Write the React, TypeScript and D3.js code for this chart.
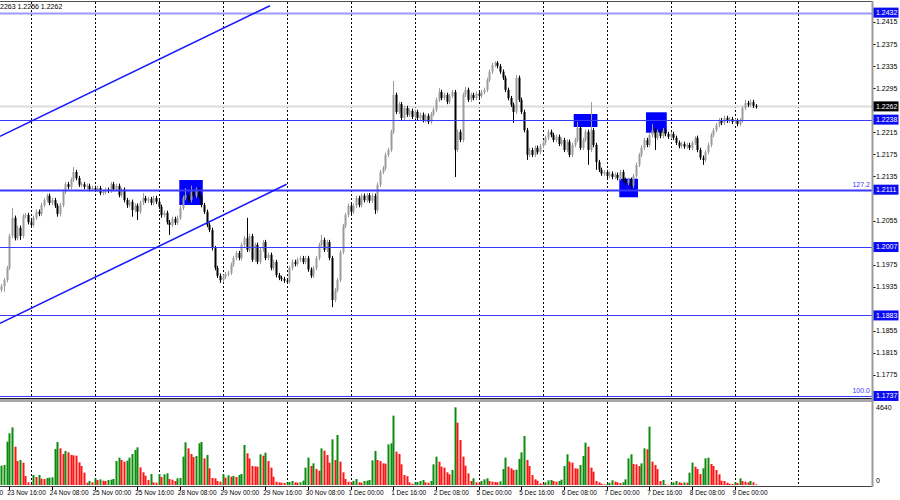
import React from 'react';
import * as d3 from 'd3';

// first bar index (0 = 23 Nov 16:00, H1 bars)
const firstBar = -3;

const opens = [
1.1929,1.1936,1.1947,1.1969,1.2027,1.2060,1.2023,1.2042,1.2027,1.2063,1.2065,1.2052,
1.2047,1.2060,1.2071,1.2067,1.2083,1.2092,1.2100,1.2087,1.2092,1.2082,1.2067,1.2083,
1.2107,1.2121,1.2116,1.2129,1.2143,1.2132,1.2120,1.2121,1.2116,1.2118,1.2112,1.2114,
1.2111,1.2114,1.2105,1.2107,1.2111,1.2109,1.2121,1.2112,1.2118,1.2101,1.2111,1.2092,
1.2083,1.2089,1.2074,1.2082,1.2071,1.2087,1.2096,1.2091,1.2094,1.2087,1.2096,1.2089,
1.2080,1.2065,1.2069,1.2052,1.2047,1.2058,1.2051,1.2060,1.2078,1.2096,1.2101,1.2092,
1.2107,1.2100,1.2111,1.2098,1.2083,1.2071,1.2047,1.2038,1.2005,1.1969,1.1955,1.1947,
1.1953,1.1958,1.1960,1.1975,1.1987,1.1996,1.1987,1.2011,1.2023,1.2002,1.2027,1.1984,
1.2011,1.1980,1.2002,1.2016,1.1987,1.1993,1.1969,1.1980,1.1956,1.1951,1.1949,1.1946,
1.1944,1.1969,1.1980,1.1976,1.1984,1.1987,1.1980,1.1987,1.1966,1.1955,1.1969,1.1987,
1.2011,1.2020,1.2002,1.2016,1.1987,1.1911,1.1929,1.1947,1.1998,1.2045,1.2065,1.2082,
1.2071,1.2082,1.2096,1.2083,1.2100,1.2092,1.2101,1.2091,1.2100,1.2074,1.2120,1.2143,
1.2150,1.2174,1.2183,1.2216,1.2283,1.2252,1.2266,1.2241,1.2259,1.2247,1.2254,1.2243,
1.2252,1.2241,1.2247,1.2237,1.2245,1.2234,1.2248,1.2256,1.2274,1.2288,1.2277,1.2283,
1.2270,1.2281,1.2288,1.2183,1.2216,1.2201,1.2283,1.2292,1.2274,1.2283,1.2277,1.2285,
1.2281,1.2288,1.2292,1.2310,1.2325,1.2337,1.2341,1.2335,1.2325,1.2314,1.2292,1.2277,
1.2265,1.2252,1.2314,1.2274,1.2252,1.2219,1.2174,1.2183,1.2174,1.2187,1.2179,1.2190,
1.2196,1.2205,1.2216,1.2210,1.2201,1.2207,1.2194,1.2201,1.2183,1.2198,1.2174,1.2192,
1.2201,1.2223,1.2187,1.2201,1.2216,1.2183,1.2219,1.2192,1.2161,1.2147,1.2140,1.2143,
1.2136,1.2140,1.2134,1.2138,1.2132,1.2143,1.2129,1.2123,1.2129,1.2118,1.2136,1.2156,
1.2174,1.2187,1.2201,1.2192,1.2210,1.2219,1.2205,1.2216,1.2208,1.2219,1.2212,1.2207,
1.2212,1.2205,1.2196,1.2190,1.2194,1.2189,1.2192,1.2187,1.2196,1.2205,1.2183,1.2169,
1.2165,1.2179,1.2192,1.2210,1.2219,1.2228,1.2237,1.2232,1.2241,1.2236,1.2239,1.2234,
1.2236,1.2230,1.2237,1.2259,1.2268,1.2265,1.2270,1.2263,
];

const highs = [
1.1940,1.1951,1.1973,1.2031,1.2078,1.2064,1.2046,1.2046,1.2067,1.2069,1.2069,1.2056,
1.2064,1.2075,1.2075,1.2087,1.2096,1.2104,1.2104,1.2096,1.2096,1.2086,1.2087,1.2111,
1.2125,1.2125,1.2133,1.2152,1.2147,1.2136,1.2125,1.2125,1.2122,1.2122,1.2118,1.2118,
1.2118,1.2118,1.2111,1.2115,1.2115,1.2125,1.2125,1.2122,1.2122,1.2115,1.2115,1.2096,
1.2093,1.2093,1.2086,1.2086,1.2091,1.2105,1.2100,1.2098,1.2098,1.2100,1.2100,1.2093,
1.2084,1.2073,1.2073,1.2056,1.2062,1.2062,1.2064,1.2082,1.2100,1.2114,1.2105,1.2118,
1.2111,1.2115,1.2115,1.2102,1.2087,1.2075,1.2051,1.2042,1.2009,1.1973,1.1959,1.1957,
1.1962,1.1964,1.1979,1.1991,1.2000,1.2000,1.2015,1.2027,1.2060,1.2031,1.2031,1.2015,
1.2015,1.2006,1.2020,1.2020,1.1997,1.1997,1.1984,1.1984,1.1960,1.1955,1.1953,1.1950,
1.1973,1.1984,1.1984,1.1988,1.1991,1.1991,1.1991,1.1991,1.1970,1.1973,1.1991,1.2015,
1.2029,1.2024,1.2020,1.2020,1.1991,1.1933,1.1951,1.2002,1.2049,1.2069,1.2086,1.2086,
1.2086,1.2100,1.2100,1.2104,1.2104,1.2105,1.2105,1.2104,1.2104,1.2124,1.2147,1.2154,
1.2178,1.2187,1.2220,1.2308,1.2287,1.2270,1.2270,1.2263,1.2263,1.2258,1.2258,1.2256,
1.2256,1.2251,1.2251,1.2249,1.2249,1.2252,1.2260,1.2278,1.2295,1.2292,1.2287,1.2287,
1.2285,1.2292,1.2292,1.2220,1.2220,1.2287,1.2297,1.2296,1.2287,1.2287,1.2289,1.2289,
1.2292,1.2296,1.2314,1.2329,1.2341,1.2344,1.2344,1.2339,1.2329,1.2318,1.2296,1.2281,
1.2269,1.2319,1.2318,1.2278,1.2256,1.2223,1.2187,1.2187,1.2191,1.2191,1.2194,1.2200,
1.2209,1.2220,1.2220,1.2214,1.2211,1.2211,1.2205,1.2205,1.2202,1.2202,1.2196,1.2205,
1.2234,1.2227,1.2205,1.2220,1.2220,1.2270,1.2223,1.2196,1.2165,1.2151,1.2147,1.2147,
1.2144,1.2144,1.2142,1.2142,1.2147,1.2147,1.2133,1.2133,1.2133,1.2140,1.2160,1.2178,
1.2191,1.2205,1.2205,1.2214,1.2230,1.2223,1.2220,1.2220,1.2223,1.2223,1.2216,1.2216,
1.2216,1.2209,1.2200,1.2198,1.2198,1.2196,1.2196,1.2200,1.2208,1.2209,1.2187,1.2173,
1.2183,1.2196,1.2214,1.2223,1.2232,1.2241,1.2241,1.2245,1.2245,1.2243,1.2243,1.2240,
1.2240,1.2241,1.2263,1.2274,1.2272,1.2274,1.2274,1.2266,
];

const lows = [
1.1925,1.1926,1.1943,1.1965,1.2023,1.2019,1.2019,1.2020,1.2023,1.2059,1.2048,1.2042,
1.2043,1.2056,1.2063,1.2063,1.2079,1.2088,1.2083,1.2083,1.2078,1.2062,1.2063,1.2079,
1.2103,1.2112,1.2112,1.2125,1.2128,1.2116,1.2116,1.2112,1.2112,1.2108,1.2108,1.2107,
1.2107,1.2101,1.2101,1.2103,1.2105,1.2105,1.2108,1.2108,1.2097,1.2097,1.2088,1.2078,
1.2079,1.2062,1.2070,1.2056,1.2067,1.2083,1.2087,1.2087,1.2083,1.2083,1.2085,1.2076,
1.2060,1.2061,1.2048,1.2029,1.2043,1.2047,1.2047,1.2056,1.2074,1.2092,1.2088,1.2088,
1.2096,1.2096,1.2094,1.2079,1.2067,1.2043,1.2034,1.2001,1.1965,1.1951,1.1942,1.1943,
1.1949,1.1954,1.1956,1.1971,1.1983,1.1983,1.1983,1.2007,1.1998,1.1998,1.1980,1.1980,
1.1976,1.1976,1.1998,1.1983,1.1983,1.1965,1.1965,1.1952,1.1947,1.1945,1.1942,1.1940,
1.1940,1.1965,1.1972,1.1972,1.1980,1.1976,1.1976,1.1962,1.1951,1.1951,1.1965,1.1983,
1.2007,1.1998,1.1998,1.1983,1.1898,1.1907,1.1925,1.1943,1.1994,1.2041,1.2061,1.2067,
1.2067,1.2078,1.2079,1.2079,1.2088,1.2088,1.2087,1.2087,1.2067,1.2070,1.2116,1.2139,
1.2146,1.2170,1.2179,1.2212,1.2248,1.2248,1.2237,1.2237,1.2243,1.2243,1.2239,1.2239,
1.2237,1.2237,1.2233,1.2233,1.2230,1.2230,1.2244,1.2252,1.2270,1.2273,1.2273,1.2266,
1.2266,1.2277,1.2134,1.2179,1.2197,1.2197,1.2279,1.2270,1.2270,1.2273,1.2273,1.2277,
1.2277,1.2284,1.2288,1.2306,1.2321,1.2333,1.2331,1.2321,1.2310,1.2288,1.2273,1.2261,
1.2232,1.2248,1.2270,1.2248,1.2215,1.2165,1.2170,1.2170,1.2170,1.2175,1.2175,1.2186,
1.2192,1.2201,1.2206,1.2197,1.2197,1.2190,1.2190,1.2179,1.2179,1.2170,1.2170,1.2188,
1.2197,1.2183,1.2183,1.2197,1.2156,1.2179,1.2188,1.2147,1.2143,1.2136,1.2136,1.2132,
1.2132,1.2130,1.2130,1.2128,1.2128,1.2125,1.2119,1.2119,1.2111,1.2114,1.2132,1.2152,
1.2170,1.2183,1.2188,1.2188,1.2206,1.2183,1.2201,1.2204,1.2204,1.2208,1.2203,1.2203,
1.2201,1.2192,1.2186,1.2186,1.2185,1.2185,1.2183,1.2183,1.2192,1.2179,1.2165,1.2156,
1.2161,1.2175,1.2188,1.2206,1.2215,1.2224,1.2228,1.2228,1.2232,1.2232,1.2230,1.2230,
1.2226,1.2226,1.2233,1.2255,1.2261,1.2261,1.2259,1.2258,
];

const closes = [
1.1936,1.1947,1.1969,1.2027,1.2060,1.2023,1.2042,1.2027,1.2063,1.2065,1.2052,1.2047,
1.2060,1.2071,1.2067,1.2083,1.2092,1.2100,1.2087,1.2092,1.2082,1.2067,1.2083,1.2107,
1.2121,1.2116,1.2129,1.2143,1.2132,1.2120,1.2121,1.2116,1.2118,1.2112,1.2114,1.2111,
1.2114,1.2105,1.2107,1.2111,1.2109,1.2121,1.2112,1.2118,1.2101,1.2111,1.2092,1.2083,
1.2089,1.2074,1.2082,1.2071,1.2087,1.2096,1.2091,1.2094,1.2087,1.2096,1.2089,1.2080,
1.2065,1.2069,1.2052,1.2047,1.2058,1.2051,1.2060,1.2078,1.2096,1.2101,1.2092,1.2107,
1.2100,1.2111,1.2098,1.2083,1.2071,1.2047,1.2038,1.2005,1.1969,1.1955,1.1947,1.1953,
1.1958,1.1960,1.1975,1.1987,1.1996,1.1987,1.2011,1.2023,1.2002,1.2027,1.1984,1.2011,
1.1980,1.2002,1.2016,1.1987,1.1993,1.1969,1.1980,1.1956,1.1951,1.1949,1.1946,1.1944,
1.1969,1.1980,1.1976,1.1984,1.1987,1.1980,1.1987,1.1966,1.1955,1.1969,1.1987,1.2011,
1.2020,1.2002,1.2016,1.1987,1.1911,1.1929,1.1947,1.1998,1.2045,1.2065,1.2082,1.2071,
1.2082,1.2096,1.2083,1.2100,1.2092,1.2101,1.2091,1.2100,1.2074,1.2120,1.2143,1.2150,
1.2174,1.2183,1.2216,1.2283,1.2252,1.2266,1.2241,1.2259,1.2247,1.2254,1.2243,1.2252,
1.2241,1.2247,1.2237,1.2245,1.2234,1.2248,1.2256,1.2274,1.2288,1.2277,1.2283,1.2270,
1.2281,1.2288,1.2183,1.2216,1.2201,1.2283,1.2292,1.2274,1.2283,1.2277,1.2285,1.2281,
1.2288,1.2292,1.2310,1.2325,1.2337,1.2341,1.2335,1.2325,1.2314,1.2292,1.2277,1.2265,
1.2252,1.2314,1.2274,1.2252,1.2219,1.2174,1.2183,1.2174,1.2187,1.2179,1.2190,1.2196,
1.2205,1.2216,1.2210,1.2201,1.2207,1.2194,1.2201,1.2183,1.2198,1.2174,1.2192,1.2201,
1.2223,1.2187,1.2201,1.2216,1.2183,1.2219,1.2192,1.2161,1.2147,1.2140,1.2143,1.2136,
1.2140,1.2134,1.2138,1.2132,1.2143,1.2129,1.2123,1.2129,1.2118,1.2136,1.2156,1.2174,
1.2187,1.2201,1.2192,1.2210,1.2219,1.2205,1.2216,1.2208,1.2219,1.2212,1.2207,1.2212,
1.2205,1.2196,1.2190,1.2194,1.2189,1.2192,1.2187,1.2196,1.2205,1.2183,1.2169,1.2165,
1.2179,1.2192,1.2210,1.2219,1.2228,1.2237,1.2232,1.2241,1.2236,1.2239,1.2234,1.2236,
1.2230,1.2237,1.2259,1.2268,1.2265,1.2270,1.2263,1.2262,
];

const volumes = [
1150,1190,2578,3074,3431,2280,1428,1487,1329,535,159,60,
595,476,595,377,357,416,436,456,2142,2558,2181,1844,
2023,1943,1785,1765,1745,1348,1130,734,139,238,159,397,
297,337,258,238,297,317,357,1428,1626,1487,1388,1448,
1626,1844,2082,2241,1051,754,555,297,654,159,139,654,
476,635,694,357,317,238,397,416,1686,2538,2181,1844,
1666,1725,2479,2558,1586,1785,992,416,397,238,198,635,
436,575,496,535,476,595,654,2380,1884,1586,1130,1110,
1091,1824,1745,1923,1428,1031,496,198,159,139,119,139,
178,238,159,139,159,258,1031,1626,1130,1289,952,853,
2181,2042,1785,1329,2717,1487,2975,1388,754,357,198,159,
238,357,159,139,238,258,297,1467,2023,1487,1428,1289,
1269,2419,2479,4125,1983,1844,1229,595,516,159,79,159,
178,238,297,159,139,238,1229,1686,1388,1091,1031,754,
635,892,4620,3708,2677,1686,1150,694,238,397,159,139,
238,337,397,238,198,178,159,218,952,1626,1091,992,
892,912,1547,1943,2915,1487,1130,595,337,258,99,79,
159,278,297,238,198,238,317,1130,1824,1388,1329,992,
972,1190,1725,2518,2280,1031,793,238,159,79,40,79,
139,278,198,159,119,159,337,1586,1824,1249,1229,1130,
1289,2181,2122,3470,1388,1190,952,238,297,40,20,99,
159,238,159,119,159,139,734,1329,1091,952,654,992,
1586,1626,1249,1130,892,635,258,238,139,79,59,159,
119,397,238,198,159,238,159,40,
];

const priceTicks = [1.2415, 1.2375, 1.2335, 1.2295, 1.2255, 1.2215, 1.2175, 1.2135, 1.2095, 1.2055, 1.2015, 1.1975, 1.1935, 1.1895, 1.1855, 1.1815, 1.1775];
const levelPrices = [1.2432, 1.2238, 1.2111, 1.2007, 1.1883, 1.1737];
const currentPrice = 1.2262;
const fiboLabels = [{ text: '127.2', price: 1.2111 }, { text: '100.0', price: 1.1737 }];
const dateLabels = ['23 Nov 00:00', '23 Nov 16:00', '24 Nov 08:00', '25 Nov 00:00', '25 Nov 16:00', '28 Nov 08:00', '29 Nov 00:00', '29 Nov 16:00', '30 Nov 08:00', '1 Dec 00:00', '1 Dec 16:00', '2 Dec 08:00', '5 Dec 00:00', '5 Dec 16:00', '6 Dec 08:00', '7 Dec 00:00', '7 Dec 16:00', '8 Dec 08:00', '9 Dec 00:00'];
const dateLabelBars = [-16, 0, 16, 32, 48, 64, 80, 96, 112, 128, 144, 160, 176, 192, 208, 224, 240, 256, 272];
const gridBars = [8, 32, 56, 80, 104, 128, 152, 176, 200, 224, 248, 272, 296];
const trendLines = [
  [[-3.45, 1.22078], [97.8, 1.24446]],
  [[-3.45, 1.18686], [104.05, 1.21207]],
];
// [barStart, barEnd, priceTop, priceBottom]
const zones = [
  [63.8, 72.6, 1.21285, 1.20832],
  [211.7, 220.6, 1.22482, 1.22246],
  [238.8, 246.6, 1.22513, 1.22143],
  [228.8, 235.8, 1.21309, 1.20972],
];
const volumeTicks = [4640, 0];
const ohlcText = '2263 1.2256 1.2262';

const FONT = '"Liberation Sans", Arial, sans-serif';

export default function App() {
  const axisX = 872.5;
  const x = d3.scaleLinear().domain([0, 272]).range([9.17, 734.5]);
  const y = d3.scaleLinear().domain([1.1775, 1.2415]).range([375, 22]);
  const yv = d3.scaleLinear().domain([0, 4640]).range([485, 407]);
  const n = Math.min(opens.length, highs.length, lows.length, closes.length);
  const line = d3.line<number[]>().x((d) => x(d[0])).y((d) => y(d[1]));

  const levelStyle = (p: number) => {
    if (p === 1.2432) return { stroke: '#9a9aff', w: 2 };
    if (p === 1.2111) return { stroke: '#3a3aff', w: 2 };
    return { stroke: '#3a3aff', w: 1 };
  };

  // tick labels that sit under a highlighted price box are hidden (as in the terminal)
  const boxed = [...levelPrices, currentPrice].map((p) => y(p));
  const visibleTicks = priceTicks.filter((p) => boxed.every((by) => Math.abs(by - y(p)) > 9));

  const candles = [];
  for (let k = 0; k < n; k++) {
    const i = firstBar + k;
    const cx = Math.round(x(i)) + 0.5;
    const o = opens[k], c = closes[k];
    const up = c >= o;
    const col = up ? '#9c9c9c' : '#000000';
    const top = y(Math.max(o, c));
    const bot = y(Math.min(o, c));
    candles.push(
      <g key={'c' + k}>
        <line x1={cx} x2={cx} y1={y(highs[k])} y2={y(lows[k])} stroke={col} strokeWidth={1} />
        <rect x={cx - 1} y={top} width={2} height={Math.max(1, bot - top)} fill={col} />
      </g>
    );
  }

  const vols = [];
  for (let k = 0; k < volumes.length; k++) {
    const i = firstBar + k;
    const cx = Math.round(x(i));
    const rising = k === 0 ? true : volumes[k] > volumes[k - 1];
    const top = yv(volumes[k]);
    vols.push(
      <rect key={'v' + k} x={cx - 0.5} y={top} width={2} height={yv(0) - top} fill={rising ? '#0c8c0c' : '#ff1414'} />
    );
  }

  return (
    <div style={{ position: 'absolute', left: 0, top: 0 }}>
      <svg width={900} height={500} style={{ display: 'block', background: '#fff' }} fontFamily={FONT}>
        <rect x={0} y={0} width={900} height={500} fill="#ffffff" />
        <defs>
          <clipPath id="pricePane"><rect x={0} y={2} width={axisX} height={396} /></clipPath>
          <clipPath id="volPane"><rect x={0} y={402} width={axisX} height={84} /></clipPath>
        </defs>
        {/* grid */}
        {gridBars.map((b) => (
          <line key={'g' + b} x1={Math.round(x(b)) + 0.5} x2={Math.round(x(b)) + 0.5} y1={2} y2={486} stroke="#000" strokeWidth={1} strokeDasharray="2,2" />
        ))}
        <g clipPath="url(#pricePane)">
          {/* current price line */}
          <line x1={0} x2={axisX} y1={y(currentPrice)} y2={y(currentPrice)} stroke="#dcdcdc" strokeWidth={2} />
          {zones.map((z, j) => (
            <rect key={'z' + j} x={x(z[0])} y={y(z[2])} width={x(z[1]) - x(z[0])} height={y(z[3]) - y(z[2])} fill="#0000ff" />
          ))}
          {candles}
          {levelPrices.map((p) => {
            const s = levelStyle(p);
            return <line key={'l' + p} x1={0} x2={axisX} y1={Math.round(y(p)) + 0.5} y2={Math.round(y(p)) + 0.5} stroke={s.stroke} strokeWidth={s.w} />;
          })}
          {trendLines.map((t, j) => (
            <path key={'t' + j} d={line(t) || ''} fill="none" stroke="#1a1aff" strokeWidth={1.6} />
          ))}
          {fiboLabels.map((f) => (
            <text key={f.text} x={870} y={y(f.price) - 3} fontSize={7} fill="#3a3aff" textAnchor="end">{f.text}</text>
          ))}
        </g>
        <g clipPath="url(#volPane)">{vols}</g>
        {/* frames */}
        <line x1={0} x2={axisX} y1={1.5} y2={1.5} stroke="#505050" strokeWidth={1} />
        <line x1={0} x2={axisX} y1={398.5} y2={398.5} stroke="#202020" strokeWidth={1} />
        <rect x={0} y={399} width={axisX + 1} height={3} fill="#a8a8a8" />
        <line x1={0} x2={axisX} y1={486.5} y2={486.5} stroke="#404040" strokeWidth={1} />
        <line x1={axisX} x2={axisX} y1={1} y2={487} stroke="#9a9a9a" strokeWidth={2} />
        {/* price axis */}
        {visibleTicks.map((p) => (
          <g key={'pt' + p}>
            <line x1={axisX + 1} x2={axisX + 3} y1={Math.round(y(p)) + 0.5} y2={Math.round(y(p)) + 0.5} stroke="#000" />
            <text x={876} y={y(p)} dy="0.35em" fontSize={7} fill="#000">{p.toFixed(4)}</text>
          </g>
        ))}
        {levelPrices.map((p) => (
          <g key={'lb' + p}>
            <rect x={873.5} y={y(p) - 5} width={25} height={10} fill="#0c0cf0" />
            <text x={876} y={y(p)} dy="0.35em" fontSize={7} fill="#fff">{p.toFixed(4)}</text>
          </g>
        ))}
        <rect x={873.5} y={y(currentPrice) - 5} width={25} height={10} fill="#000" />
        <text x={876} y={y(currentPrice)} dy="0.35em" fontSize={7} fill="#fff">{currentPrice.toFixed(4)}</text>
        {/* volume axis */}
        {volumeTicks.map((v) => (
          <text key={'vt' + v} x={876} y={v === 0 ? 481 : yv(v) + 1} dy="0.35em" fontSize={7} fill="#000">{String(v)}</text>
        ))}
        {/* time axis */}
        {dateLabels.map((lab, j) => (
          <g key={'d' + j}>
            <line x1={Math.round(x(dateLabelBars[j])) + 0.5} x2={Math.round(x(dateLabelBars[j])) + 0.5} y1={487} y2={490} stroke="#000" />
            <text x={x(dateLabelBars[j]) - 2} y={493} dy="0.35em" fontSize={6.5} fill="#000">{lab}</text>
          </g>
        ))}
        <text x={0} y={7} dy="0.35em" fontSize={7} fill="#000">{ohlcText}</text>
      </svg>
    </div>
  );
}
